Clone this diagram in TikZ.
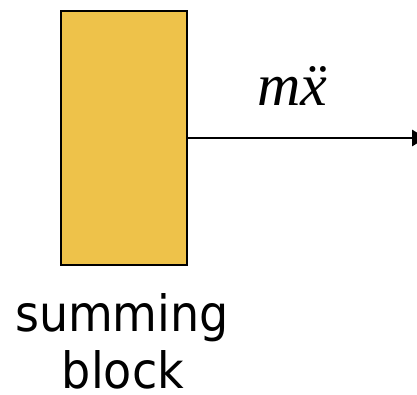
\documentclass[tikz,border=0pt]{standalone}
\usepackage{fontspec}
\setmainfont{Liberation Serif}
\newfontfamily\captionfont{DejaVu Sans}
\usetikzlibrary{arrows.meta}
\definecolor{blockfill}{RGB}{238,194,74}
\begin{document}
\begin{tikzpicture}[x=1pt,y=-1pt,
  blockbox/.style={draw=black, line width=2.6pt, fill=blockfill,
    minimum width=126pt, minimum height=254pt, inner sep=0pt},
  signal/.style={line width=2.9pt, -{Triangle[length=14pt,width=16pt]}},
  signallabel/.style={font=\fontsize{60}{64}\selectfont\itshape, inner sep=0pt},
  caption/.style={font=\captionfont\fontsize{50}{60}\selectfont, inner sep=0pt,
    xscale=0.92, transform shape}]
\useasboundingbox (0,0) rectangle (417,394);
\clip (0,0) rectangle (417,394);
% summing block
\node[blockbox] (sum) at (124,138) {};
% output signal leaving to the right
\coordinate (out) at (426,138);
\draw[signal] (sum.east) -- (out);
\node[signallabel, anchor=base] (lbl) at (292,105) {m\"{x}};
% caption under the block
\node[caption, anchor=base] (cap1) at (122,331) {summing};
\node[caption, anchor=base] (cap2) at (123,388) {block};
\end{tikzpicture}
\end{document}
